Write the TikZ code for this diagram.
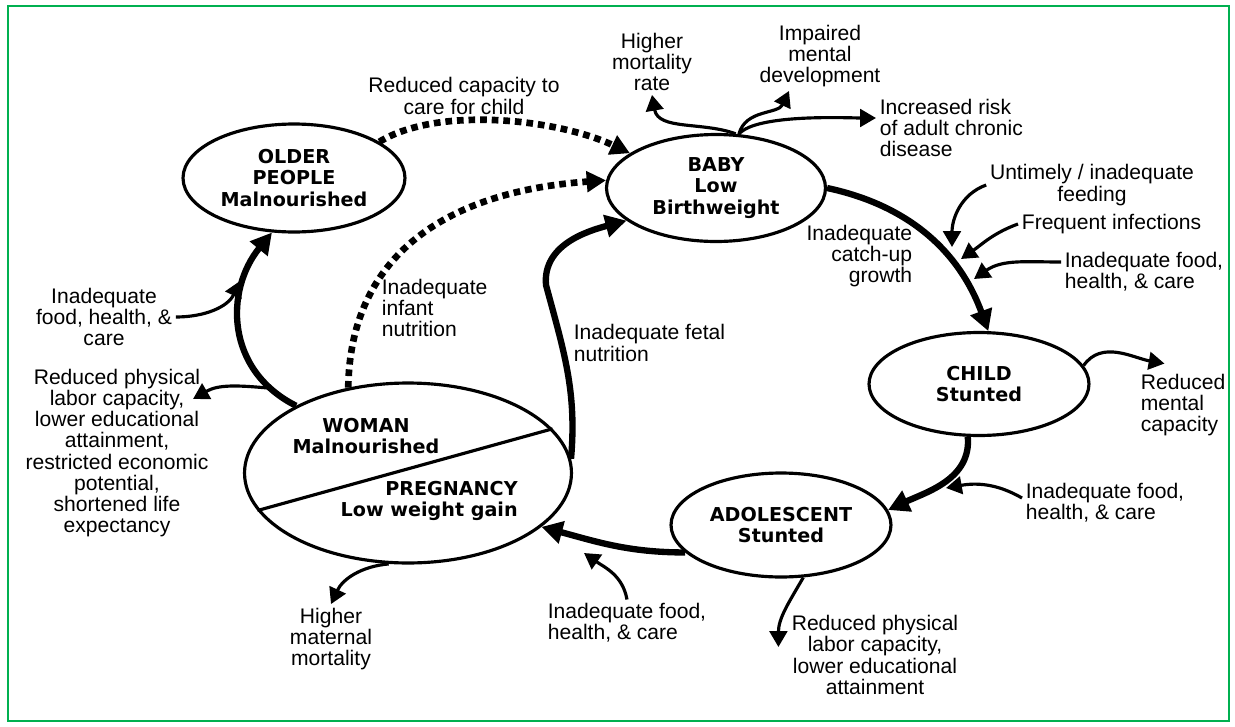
\documentclass[tikz,border=0pt]{standalone}
\usepackage{fontspec}
\setmainfont{Liberation Sans}
\newfontfamily\stagefont{DejaVu Sans}
\usetikzlibrary{shapes.geometric,arrows.meta}
\definecolor{frame}{RGB}{0,176,80}
\tikzset{
  stage/.style={ellipse, draw, line width=1.8pt, inner sep=0pt, align=center,
    font=\stagefont\bfseries\fontsize{10.9}{12.2}\selectfont},
  stagetext/.style={inner sep=0pt, font=\stagefont\bfseries\fontsize{10.9}{12.2}\selectfont},
  lbl/.style={inner sep=2pt, align=center, font=\fontsize{12}{12.1}\selectfont},
  bigarrow/.style={line width=3.6pt, -{Triangle[length=12pt,width=12.5pt]}},
  smallarrow/.style={line width=1.8pt, -{Triangle[length=9pt,width=10pt]}},
  dotarrow/.style={line width=3.8pt, dash pattern=on 3.8pt off 2.8pt, -{Triangle[length=11pt,width=11.5pt]}},
}
\begin{document}
\begin{tikzpicture}[x=0.02cm, y=-0.02cm]
  \useasboundingbox (0,0) rectangle (1235,727);
  \draw[frame, line width=1.2pt] (8,6) rectangle (1229,721);

  % life cycle stages
  \node[stage, minimum width=4.44cm, minimum height=2.16cm] (older) at (294,178) {OLDER\\PEOPLE\\Malnourished};
  \node[stage, minimum width=4.38cm, minimum height=2.14cm] (baby) at (716,188) {BABY\\Low\\Birthweight};
  \node[stage, minimum width=4.4cm, minimum height=2.06cm] (child) at (979,384) {CHILD\\Stunted};
  \node[stage, minimum width=4.4cm, minimum height=2.08cm] (adol) at (781,525) {ADOLESCENT\\Stunted};
  \node[stage, minimum width=6.54cm, minimum height=3.6cm] (woman) at (408,473) {};
  \draw[line width=1.8pt] (woman.194) -- (woman.17);
  \node[stagetext, align=center] (wtop) at (366,436) {WOMAN\\Malnourished};
  \node[stagetext, align=right, anchor=east] (wbot) at (518,501) {PREGNANCY\\Low weight gain};

  % labels
  \node[lbl] (lcare) at (464,96) {Reduced capacity to\\care for child};
  \node[lbl] (lmort) at (652,62) {Higher\\mortality\\rate};
  \node[lbl] (lment) at (820,56) {Impaired\\mental\\development};
  \node[lbl, anchor=west, align=left] (lrisk) at (876,128) {Increased risk\\of adult chronic\\disease};
  \node[lbl] (lfeed) at (1092,185) {Untimely / inadequate\\feeding};
  \node[lbl, anchor=west] (linf) at (1018,224) {Frequent infections};
  \node[lbl, anchor=west, align=left] (lfood1) at (1061,272) {Inadequate food,\\health, \& care};
  \node[lbl, anchor=east, align=right] (lcatch) at (916,256) {Inadequate\\catch-up\\growth};
  \node[lbl, anchor=west, align=left] (lmcap) at (1137,405) {Reduced\\mental\\capacity};
  \node[lbl, anchor=west, align=left] (lfood2) at (1022,503) {Inadequate food,\\health, \& care};
  \node[lbl] (lphys2) at (875,655) {Reduced physical\\labor capacity,\\lower educational\\attainment};
  \node[lbl, anchor=west, align=left] (lfood3) at (544,623) {Inadequate food,\\health, \& care};
  \node[lbl] (lmat) at (331,639) {Higher\\maternal\\mortality};
  \node[lbl] (lphys1) at (117,453) {Reduced physical\\labor capacity,\\lower educational\\attainment,\\restricted economic\\potential,\\shortened life\\expectancy};
  \node[lbl] (lfood4) at (104,317) {Inadequate\\food, health, \&\\care};
  \node[lbl, anchor=west, align=left] (linfant) at (378,308) {Inadequate\\infant\\nutrition};
  \node[lbl, anchor=west, align=left] (lfetal) at (570,343) {Inadequate fetal\\nutrition};

  % free ends on the cycle arrows
  \coordinate (fetalmid) at (546,285);
  \coordinate (dfeed) at (952,247);
  \coordinate (dinf) at (961,259);
  \coordinate (dfood) at (974,279);
  \coordinate (efood) at (946,488);
  \coordinate (ffood) at (584,553);
  \coordinate (gbranch) at (268,388);
  \coordinate (gfood) at (240,281);
  \coordinate (physend) at (193,399);

  % the cycle
  \draw[bigarrow] (baby.east) to[out=-12, in=110] (child.80);
  \draw[bigarrow] (child.258) to[out=-85, in=25] (adol.8);
  \draw[bigarrow] (adol.196) to[out=180, in=-15] (woman.-22);
  \draw[bigarrow] (woman.149) .. controls (225,370) and (225,290) .. (older.248);
  \draw[bigarrow] (woman.5) to[out=85, in=-75] (fetalmid) to[out=95, in=195] (baby.200);
  \draw[dotarrow] (older.23) .. controls (440,105) and (560,120) .. (baby.158);
  \draw[dotarrow] (woman.125) .. controls (350,260) and (440,192) .. (baby.176);

  % causes and consequences
  \draw[smallarrow] (baby.70) to[out=160, in=-80] (lmort.south);
  \draw[smallarrow] (baby.67) to[out=75, in=-115] ([xshift=-0.62cm]lment.south);
  \draw[smallarrow] (baby.67) to[out=50, in=180, looseness=0.5] ([yshift=0.2cm]lrisk.west);
  \draw[smallarrow] (lfeed.west) to[out=200, in=90] (dfeed);
  \draw[smallarrow] (linf.west) to[out=200, in=35] (dinf);
  \draw[smallarrow] ([yshift=0.2cm]lfood1.west) to[out=180, in=35] (dfood);
  \draw[smallarrow] (child.10) to[out=55, in=170] ([xshift=0.55cm,yshift=0.13cm]lmcap.north west);
  \draw[smallarrow] ([yshift=0.1cm]lfood2.west) to[out=150, in=10] (efood);
  \draw[smallarrow] (adol.-67) to[out=-120, in=90] ([xshift=-0.19cm,yshift=0.16cm]lphys2.west);
  \draw[smallarrow] (lfood3.north) to[out=100, in=-35] (ffood);
  \draw[smallarrow] (woman.258) to[out=185, in=65] (lmat.north);
  \draw[smallarrow] (gbranch) to[out=175, in=30] (physend);
  \draw[smallarrow] (lfood4.east) to[out=0, in=-115] (gfood);
\end{tikzpicture}
\end{document}
